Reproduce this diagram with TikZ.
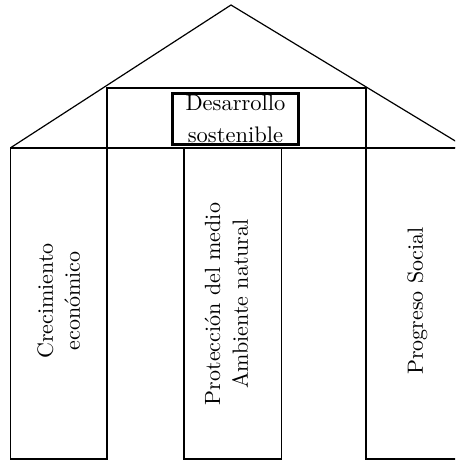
\documentclass[tikz,border=0pt]{standalone}
\usepackage{fontspec}
\newcommand\bigtext[3]{\scalebox{#1}{\fontsize{10}{#2}\selectfont\renewcommand\arraystretch{1}\begin{tabular}{@{}c@{}}#3\end{tabular}}}
\begin{document}
\begin{tikzpicture}[x=1pt,y=-1pt,
  thin line/.style={line width=1.2pt},
  pillar/.style={draw, thin line, rectangle, inner sep=0pt},
  label text/.style={inner sep=0pt, rotate=90},
  keybox/.style={draw, line width=2.6pt, rectangle, inner sep=0pt, minimum width=126pt, minimum height=51pt}]
\useasboundingbox (0,0) rectangle (455,460);
\clip (0,0) rectangle (455,460);
% roof
\coordinate (apex) at (231,5);
\coordinate (lc) at (11,147.5);
\coordinate (rc) at (466,147.5);
\draw[thin line, line join=miter] (lc) -- (apex) -- (rc);
% frieze
\node[pillar, minimum width=259pt, minimum height=60pt] (frieze) at (236.5,118) {};
\draw[thin line] (lc) -- (rc);
% key box
\node[keybox] (ds) at (235.5,119) {};
\node[inner sep=0pt] (dst) at (235.5,120.3) {\bigtext{2.25}{13.8}{Desarrollo\\sostenible}};
% pillars
\node[pillar, minimum width=96.5pt, minimum height=311pt] (p1) at (58.75,303.5) {};
\node[pillar, minimum width=97.5pt, minimum height=311pt] (p2) at (232.75,303.5) {};
\node[pillar, minimum width=98pt, minimum height=311pt] (p3) at (415,303.5) {};
% texts
\node[label text] (t1) at (61,301) {\bigtext{2.2}{12.3}{Crecimiento\\económico}};
\node[label text] (t2) at (228.4,304) {\bigtext{2.2}{12.7}{Protección del medio\\Ambiente natural}};
\node[label text] (t3) at (417.4,301) {\bigtext{2.2}{12.7}{Progreso Social}};
\end{tikzpicture}
\end{document}
